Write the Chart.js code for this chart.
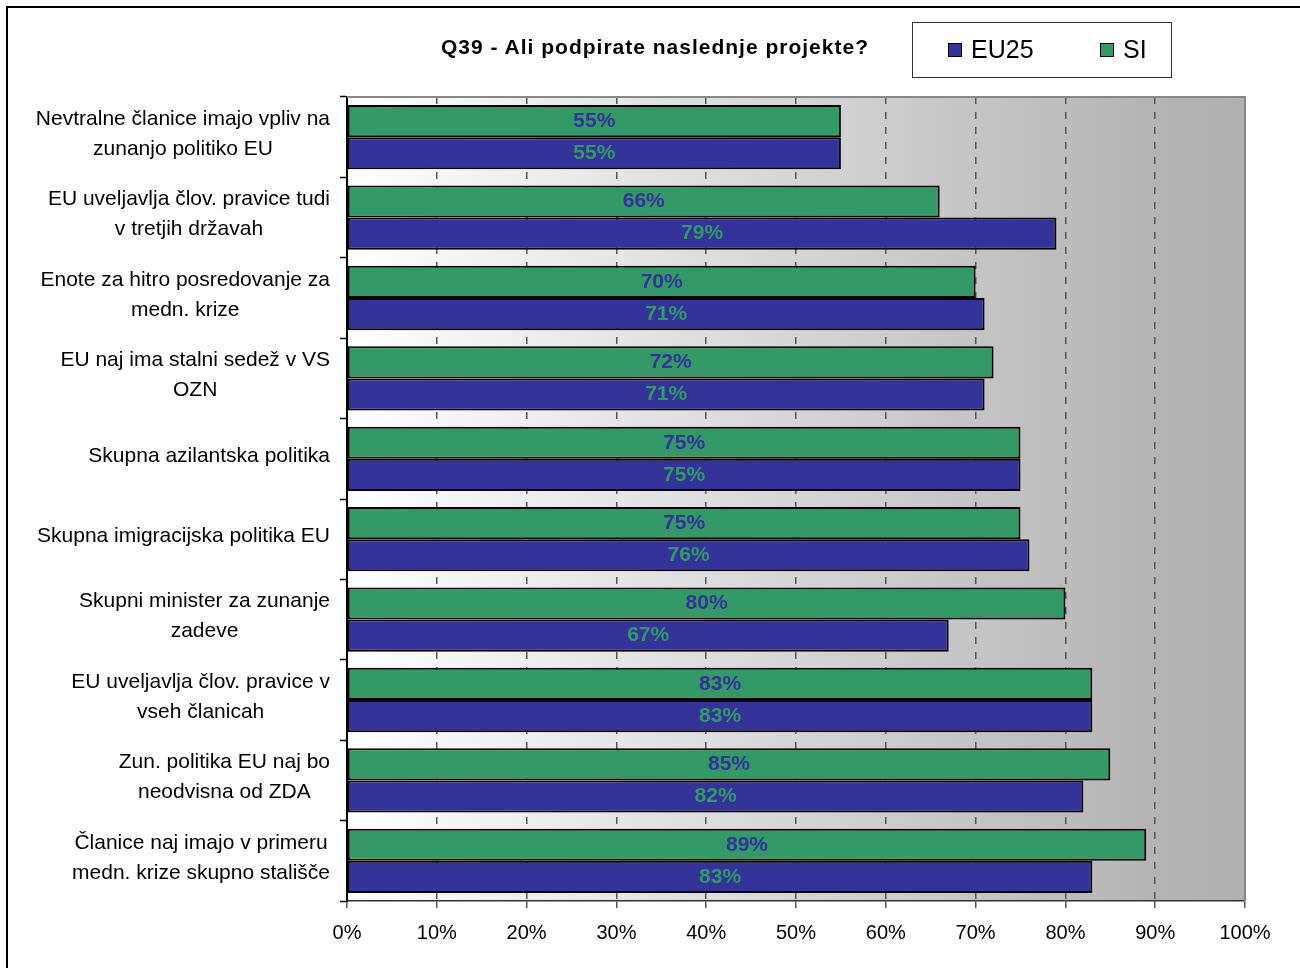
<!DOCTYPE html>
<html>
<head>
<meta charset="utf-8">
<script src="https://cdn.jsdelivr.net/npm/chart.js@4"></script>
<style>
    body { margin: 0; background: #fff; font-family: "Liberation Sans", Arial, sans-serif; }
    #wrap { position: relative; width: 1300px; height: 968px; overflow: hidden; }
    #frame { position: absolute; left: 6px; top: 6px; width: 1400px; height: 1100px; border-left: 2px solid #000; border-top: 2px solid #000; }
    #title { position: absolute; left: 441px; top: 35px; font-weight: bold; font-size: 21px; line-height: 24px; letter-spacing: 1px; color: #000; white-space: nowrap; }
    #legend { position: absolute; left: 912px; top: 22px; width: 258px; height: 54px; border: 1.5px solid #333; }
    .item { position: absolute; top: 12px; font-size: 25px; line-height: 28px; color: #000; }
    .sw { display: inline-block; width: 12px; height: 12px; border: 1px solid #000; margin-right: 9px; vertical-align: 1px; }
    canvas { position: absolute; left: 0; top: 0; }
</style>
</head>
<body>
<div id="wrap">
    <div id="frame"></div>
    <canvas id="myChart" width="1300" height="968"></canvas>
    <div id="title">Q39 - Ali podpirate naslednje projekte?</div>
    <div id="legend">
        <div class="item" style="left:35px"><span class="sw" style="background:#333399"></span>EU25</div>
        <div class="item" style="left:187px"><span class="sw" style="background:#339966"></span>SI</div>
    </div>
</div>
<script>
const categories = [
    ['Nevtralne članice imajo vpliv na', 'zunanjo politiko EU'],
    ['EU uveljavlja člov. pravice tudi', 'v tretjih državah'],
    ['Enote za hitro posredovanje za', 'medn. krize'],
    ['EU naj ima stalni sedež v VS', 'OZN'],
    ['Skupna azilantska politika'],
    ['Skupna imigracijska politika EU'],
    ['Skupni minister za zunanje', 'zadeve'],
    ['EU uveljavlja člov. pravice v', 'vseh članicah'],
    ['Zun. politika EU naj bo', 'neodvisna od ZDA'],
    ['Članice naj imajo v primeru', 'medn. krize skupno stališče']
];
const siValues = [55, 66, 70, 72, 75, 75, 80, 83, 85, 89];
const eu25Values = [55, 79, 71, 71, 75, 76, 67, 83, 82, 83];
const xTicks = [0, 10, 20, 30, 40, 50, 60, 70, 80, 90, 100];

const GREEN = '#339966';
const BLUE = '#333399';
const FONT = '"Liberation Sans", Arial, sans-serif';

// gradient background of the plot area + top/right frame
const plotBg = {
    id: 'plotBg',
    beforeDraw(chart) {
        const {ctx, chartArea: a} = chart;
        const g = ctx.createLinearGradient(a.left, 0, a.right, 0);
        g.addColorStop(0, '#ffffff');
        g.addColorStop(0.9, '#b4b4b4');
        g.addColorStop(1, '#b0b0b0');
        ctx.save();
        ctx.fillStyle = g;
        ctx.fillRect(a.left, a.top, a.right - a.left, a.bottom - a.top);
        ctx.restore();
    },
    afterDraw(chart) {
        const {ctx, chartArea: a} = chart;
        ctx.save();
        ctx.strokeStyle = '#888';
        ctx.lineWidth = 2;
        ctx.beginPath();
        ctx.moveTo(a.left, a.top);
        ctx.lineTo(a.right, a.top);
        ctx.lineTo(a.right, a.bottom);
        ctx.stroke();
        ctx.restore();
    }
};

// value labels inside the bars
const barLabels = {
    id: 'barLabels',
    afterDatasetsDraw(chart) {
        const ctx = chart.ctx;
        ctx.save();
        ctx.font = 'bold 21px ' + FONT;
        ctx.textAlign = 'center';
        ctx.textBaseline = 'middle';
        chart.data.datasets.forEach((ds, i) => {
            const meta = chart.getDatasetMeta(i);
            ctx.fillStyle = ds.labelColor;
            meta.data.forEach((bar, j) => {
                ctx.fillText(ds.data[j] + '%', (bar.x + bar.base) / 2, bar.y);
            });
        });
        ctx.restore();
    }
};

// category labels: block right aligned, lines centred inside the block
const catLabels = {
    id: 'catLabels',
    afterDraw(chart) {
        const ctx = chart.ctx;
        const yScale = chart.scales.y;
        ctx.save();
        ctx.font = '21px ' + FONT;
        ctx.fillStyle = '#000';
        ctx.textAlign = 'center';
        ctx.textBaseline = 'middle';
        categories.forEach((lines, i) => {
            const widest = Math.max(...lines.map(l => ctx.measureText(l).width));
            const cx = 330 - widest / 2;
            const cy = yScale.getPixelForValue(i) - 3;
            lines.forEach((l, k) => {
                ctx.fillText(l, cx, cy + (k - (lines.length - 1) / 2) * 30);
            });
        });
        ctx.restore();
    }
};

const ctx = document.getElementById('myChart');

let chart = new Chart(ctx, {
    type: 'bar',
    data: {
        labels: categories,
        datasets: [{
            label: 'SI',
            data: siValues,
            backgroundColor: GREEN,
            labelColor: BLUE,
            borderColor: '#000',
            borderWidth: 2,
            borderSkipped: false
        }, {
            label: 'EU25',
            data: eu25Values,
            backgroundColor: BLUE,
            labelColor: GREEN,
            borderColor: '#000',
            borderWidth: 2,
            borderSkipped: false
        }]
    },
    options: {
        indexAxis: 'y',
        responsive: false,
        animation: false,
        datasets: {
            bar: { categoryPercentage: 0.8, barPercentage: 1.0 }
        },
        layout: {
            padding: { left: 339, right: 55, top: 97, bottom: 0 }
        },
        plugins: {
            legend: { display: false },
            tooltip: { enabled: false }
        },
        scales: {
            x: {
                min: 0,
                max: 100,
                afterBuildTicks: (scale) => {
                    scale.ticks = xTicks.map(v => ({value: v}));
                },
                afterFit: (scale) => { scale.height = 67; },
                ticks: {
                    callback: (v) => v + '%',
                    color: '#000',
                    font: { family: FONT, size: 20 },
                    padding: 13,
                    maxRotation: 0
                },
                grid: {
                    color: (c) => (c.tick && (c.tick.value === 0 || c.tick.value === 100)) ? 'rgba(0,0,0,0)' : '#555',
                    lineWidth: 1.5,
                    tickColor: '#555',
                    tickLength: 7,
                    tickWidth: 1.5
                },
                border: { color: '#333', width: 1.5, dash: [7, 8] }
            },
            y: {
                afterFit: (scale) => { scale.width = 8; },
                ticks: { display: false },
                grid: {
                    drawOnChartArea: false,
                    drawTicks: true,
                    tickLength: 7,
                    tickColor: '#000',
                    tickWidth: 1.5,
                    offset: true
                },
                border: { color: '#000', width: 2 }
            }
        }
    },
    plugins: [plotBg, barLabels, catLabels]
});
</script>
</body>
</html>
